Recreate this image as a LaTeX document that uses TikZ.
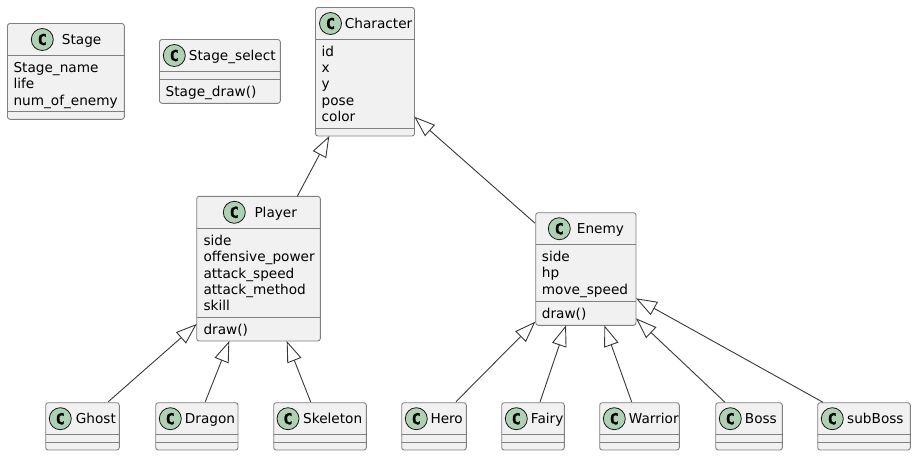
\documentclass[tikz,border=0pt]{standalone}
\usepackage{fontspec}
\setmainfont{DejaVu Sans}
\newfontfamily\spotfont[FakeBold=1.6]{DejaVu Sans Mono Bold}
\usetikzlibrary{arrows.meta}
\definecolor{boxfill}{HTML}{F1F1F1}
\definecolor{boxline}{HTML}{808080}
\definecolor{spotfill}{HTML}{ADD1B2}
\definecolor{inkline}{HTML}{181818}
\definecolor{edgeline}{HTML}{383838}
\tikzset{
  x=1pt,y=-1pt,
  classbox/.style={draw=boxline,fill=boxfill,line width=0.9pt,rounded corners=2.5pt,inner sep=0pt,outer sep=0pt,anchor=north west},
  spot/.style={circle,draw=inkline,fill=spotfill,line width=0.8pt,minimum size=22pt,inner sep=0pt,font=\spotfont\fontsize{15}{15}\selectfont},
  member/.style={anchor=base west,inner sep=0pt,font=\fontsize{13.65}{14}\selectfont,text=black},
  divider/.style={draw=boxline,line width=0.9pt},
  inherit/.style={draw=edgeline,line width=0.9pt,-{Triangle[open,length=21pt,width=15pt,line width=0.9pt]}},
}
% name, left, top, right, bottom, line1 y, line2 y, spot cx
\newcommand{\umlclass}[8]{%
  \node[classbox,minimum width=#4pt-#2pt,minimum height=#5pt-#3pt] (#1) at (#2,#3) {};
  \draw[divider] (#1.west |- 0,#6) -- (#1.east |- 0,#6);
  \draw[divider] (#1.west |- 0,#7) -- (#1.east |- 0,#7);
  \node[spot] (#1spot) at (#8,#3+16) {C};
}
\newcommand{\umltext}[4]{\node[member] (#1) at (#2,#3) {#4};}
\newcommand{\umledge}[6]{\draw[inherit] ([shift={(#2,#3)}]#1.north west) -- ([shift={(#5,#6)}]#4.north west);}
\begin{document}
\begin{tikzpicture}
\useasboundingbox (0,0) rectangle (916,456);
\umlclass{Stage}{7.5}{23.5}{124.3}{119.3}{55.3}{111.3}{42.3}
\umltext{stagetitle}{61.7}{44.3}{Stage}
\umltext{sa}{13.3}{72.3}{Stage\_name}
\umltext{sb}{13.3}{88.3}{life}
\umltext{sc}{13.3}{105}{num\_of\_enemy}
\umlclass{StageSelect}{159.5}{39.5}{280.3}{103.3}{71.3}{79.3}{174.3}
\umltext{selecttitle}{188.7}{60.3}{Stage\_select}
\umltext{ssa}{165.5}{96}{Stage\_draw()}
\umlclass{Character}{315.5}{7.5}{414.5}{136}{39.5}{128}{330.5}
\umltext{chartitle}{344.7}{28.5}{Character}
\umltext{ca}{321.5}{56}{id}
\umltext{cb}{321.5}{72.3}{x}
\umltext{cc}{321.5}{88.3}{y}
\umltext{cd}{321.5}{105}{pose}
\umltext{ce}{321.5}{121}{color}
\umlclass{Player}{196.7}{196.3}{320.3}{341}{228.3}{317.3}{234.3}
\umltext{playertitle}{254.3}{217.3}{Player}
\umltext{pa}{203.3}{245}{side}
\umltext{pb}{203.3}{261.3}{offensive\_power}
\umltext{pc}{203.3}{278}{attack\_speed}
\umltext{pd}{203.3}{294}{attack\_method}
\umltext{pe}{203.3}{310}{skill}
\umltext{pf}{203.3}{334}{draw()}
\umlclass{Enemy}{535.7}{212.7}{636}{325.3}{244.3}{301}{559.3}
\umltext{enemytitle}{576.7}{233.5}{Enemy}
\umltext{ea}{541.7}{261}{side}
\umltext{eb}{541.7}{277.3}{hp}
\umltext{ec}{541.7}{294}{move\_speed}
\umltext{ed}{541.7}{318}{draw()}
\umlclass{Ghost}{45.7}{402.7}{119.3}{450}{434.3}{442.3}{60.3}
\umltext{ghosttitle}{75.7}{423.5}{Ghost}
\umlclass{Dragon}{155.7}{402.7}{238}{450}{434.3}{442.3}{170.3}
\umltext{dragontitle}{184.7}{423.5}{Dragon}
\umlclass{Skeleton}{273.7}{402.7}{366.3}{450}{434.3}{442.3}{288}
\umltext{skeletontitle}{303}{423.5}{Skeleton}
\umlclass{Hero}{401.7}{402.7}{466.3}{450}{434.3}{442.3}{416.3}
\umltext{herotitle}{430.3}{423.5}{Hero}
\umlclass{Fairy}{501.7}{402.7}{564.3}{450}{434.3}{442.3}{516.3}
\umltext{fairytitle}{530.7}{423.5}{Fairy}
\umlclass{Warrior}{599.7}{402.7}{679.3}{450}{434.3}{442.3}{614.3}
\umltext{warriortitle}{628.7}{423.5}{Warrior}
\umlclass{Boss}{715.7}{402.7}{782.3}{450}{434.3}{442.3}{730.3}
\umltext{bosstitle}{744.7}{423.5}{Boss}
\umlclass{subBoss}{817.7}{402.7}{910.3}{450}{434.3}{442.3}{832.3}
\umltext{subbosstitle}{847}{423.5}{subBoss}
% offsets are measured from each box's top-left corner
\umledge{Player}{100.6}{0}{Character}{13.8}{128.5}
\umledge{Enemy}{-0.7}{10.5}{Character}{98.8}{109.2}
\umledge{Ghost}{62.6}{-1}{Player}{0}{127.7}
\umledge{Dragon}{49.6}{-1}{Player}{32.6}{144.7}
\umledge{Skeleton}{37}{-0.7}{Player}{90}{144.7}
\umledge{Hero}{54.3}{-1}{Enemy}{-0.4}{109}
\umledge{Fairy}{38.3}{-0.7}{Enemy}{30.3}{112.6}
\umledge{Warrior}{32}{-0.7}{Enemy}{68.6}{112.6}
\umledge{Boss}{9.3}{-0.4}{Enemy}{100.3}{105.6}
\umledge{subBoss}{5.3}{-0.4}{Enemy}{100.3}{85.6}
\end{tikzpicture}
\end{document}
